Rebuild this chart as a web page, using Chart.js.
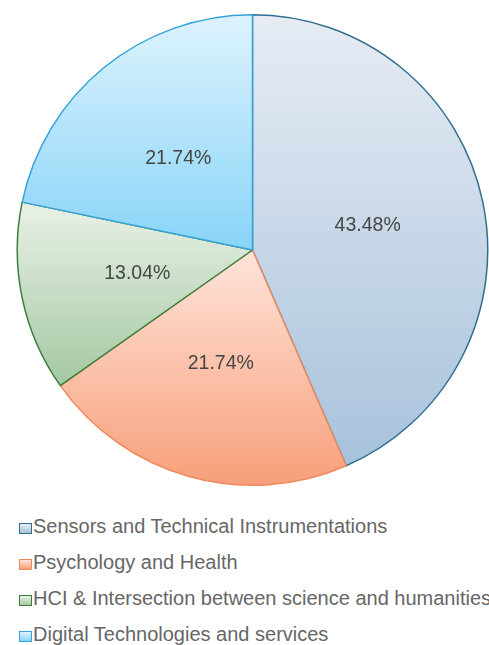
<!DOCTYPE html>
<html>
<head>
<meta charset="utf-8">
<script src="https://cdn.jsdelivr.net/npm/chart.js@4/dist/chart.umd.min.js"></script>
<style>
    html, body { margin: 0; padding: 0; background: #fff; }
    body { width: 489px; height: 645px; overflow: hidden; font-family: "Liberation Sans", Arial, sans-serif; }
    #wrap { position: relative; width: 489px; height: 500px; }
    #legend { list-style: none; margin: 0; padding: 0; position: absolute; left: 19px; top: 508px; width: 470px; overflow: hidden; }
    #legend li { height: 36px; line-height: 36px; font-size: 20px; color: #666; white-space: nowrap; }
    #legend span.box { display: inline-block; width: 11px; height: 9px; border: 1.5px solid; margin-right: 1px; vertical-align: -1px; }
</style>
</head>
<body>
<div id="wrap"><canvas id="PieChart"></canvas></div>
<ul id="legend"></ul>
<script>
const categories = ['Sensors and Technical Instrumentations', 'Psychology and Health', 'HCI & Intersection between science and humanities', 'Digital Technologies and services'];
const counts = [10, 5, 3, 5];
const topColors = ['#e7ecf4', '#ffe4db', '#e9f1e7', '#ddf3fd'];
const bottomColors = ['#a8c2dc', '#f79f7a', '#a5c8a3', '#88d4f8'];
const borderColors = ['#30708f', '#ef8a5e', '#3b7e3b', '#34a3d9'];

const total = counts.reduce((a, b) => a + b, 0);

// each slice gets its own top-to-bottom gradient over its own bounding box
const sliceGradients = {
    id: 'sliceGradients',
    beforeDatasetsDraw(chart) {
        const ctx = chart.ctx;
        chart.getDatasetMeta(0).data.forEach((arc, i) => {
            const ys = [arc.y];
            for (let k = 0; k <= 40; k++) {
                const a = arc.startAngle + (arc.endAngle - arc.startAngle) * k / 40;
                ys.push(arc.y + Math.sin(a) * arc.outerRadius);
            }
            const g = ctx.createLinearGradient(0, Math.min(...ys), 0, Math.max(...ys));
            g.addColorStop(0, topColors[i]);
            g.addColorStop(1, bottomColors[i]);
            arc.options.backgroundColor = g;
        });
    }
};

const percentLabels = {
    id: 'percentLabels',
    afterDatasetsDraw(chart) {
        const ctx = chart.ctx;
        ctx.save();
        ctx.font = '19.5px "Liberation Sans", Arial, sans-serif';
        ctx.fillStyle = '#454545';
        ctx.textAlign = 'center';
        ctx.textBaseline = 'middle';
        chart.getDatasetMeta(0).data.forEach((arc, i) => {
            const p = arc.getCenterPoint();
            ctx.fillText((counts[i] / total * 100).toFixed(2) + '%', p.x, p.y);
        });
        ctx.restore();
    }
};

document.addEventListener('DOMContentLoaded', () => {
    const ctxPie = document.getElementById('PieChart').getContext('2d');

    new Chart(ctxPie, {
        type: 'pie',
        data: {
            labels: categories,
            datasets: [{
                data: counts,
                backgroundColor: bottomColors,
                borderColor: borderColors,
                borderWidth: 1.5,
            }]
        },
        options: {
            responsive: true,
            maintainAspectRatio: false,
            animation: false,
            layout: {
                padding: { left: 16, right: 0, top: 14, bottom: 14 }
            },
            plugins: {
                legend: { display: false },
                tooltip: { enabled: false },
            }
        },
        plugins: [sliceGradients, percentLabels]
    });

    const legend = document.getElementById('legend');
    categories.forEach((name, i) => {
        const li = document.createElement('li');
        const box = document.createElement('span');
        box.className = 'box';
        box.style.borderColor = borderColors[i];
        box.style.background = 'linear-gradient(' + topColors[i] + ', ' + bottomColors[i] + ')';
        li.appendChild(box);
        li.appendChild(document.createTextNode(name));
        legend.appendChild(li);
    });
});
</script>
</body>
</html>
